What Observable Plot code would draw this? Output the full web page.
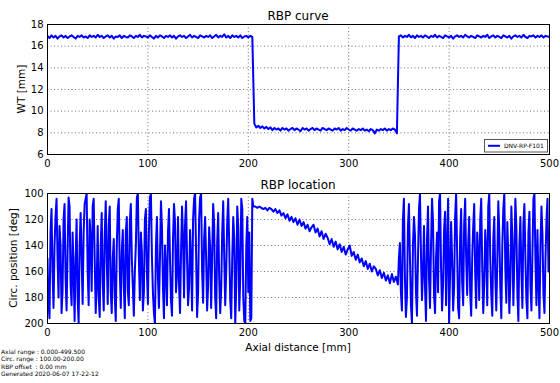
<!DOCTYPE html>
<html><head><meta charset="utf-8">
<script src="https://cdn.jsdelivr.net/npm/d3@7"></script>
<script src="https://cdn.jsdelivr.net/npm/@observablehq/plot@0.6"></script>
<style>
html,body{margin:0;padding:0;background:#fff;}
#root{position:relative;width:560px;height:383px;overflow:hidden;font-family:"DejaVu Sans",sans-serif;}
#root svg{position:absolute;left:0;}
</style></head><body><div id="root"></div>
<script>
// ---------- DATA ----------
const xTicks = [0, 100, 200, 300, 400, 500];
const wtTicks = [6, 8, 10, 12, 14, 16, 18];
const circTicks = [100, 120, 140, 160, 180, 200];
const seriesName = "DNV-RP-F101";
const footerLines = [
  "Axial range : 0.000-499.500",
  "Circ. range : 100.00-200.00",
  "RBP offset  : 0.00 mm",
  "Generated 2020-06-07 17-22-12"
];

// RBP curve, wall thickness [mm], every 2 mm from 0 to 500
const wtStep = 2;
const wtHigh1 = [ // 0..204
16.95,16.75,17.0,16.8,16.95,16.7,16.9,17.0,16.8,16.95,
16.75,16.9,17.0,16.85,16.7,16.95,16.85,17.0,16.8,16.9,
16.75,17.0,16.85,16.95,16.8,17.05,16.85,16.95,16.75,16.9,
17.0,16.8,16.95,16.7,16.9,16.85,17.0,16.75,16.95,16.85,
16.8,17.0,16.9,16.75,16.95,16.85,17.05,16.8,16.95,16.9,
16.8,17.0,16.85,16.7,16.95,16.8,17.0,16.9,16.75,16.95,
16.85,17.0,16.8,16.95,16.7,16.9,17.0,16.85,16.95,16.75,
16.9,17.05,16.8,16.95,16.85,16.75,17.0,16.9,16.8,16.95,
16.85,17.0,16.75,16.9,17.05,16.8,16.95,16.85,17.1,16.8,
16.95,16.75,17.0,16.85,16.95,16.8,17.0,16.75,16.9,16.95,
16.8,16.95,16.85];
const wtLow = [ // 206..348
8.85,8.5,8.65,8.45,8.6,8.4,8.55,8.35,8.5,8.25,
8.45,8.3,8.4,8.2,8.45,8.3,8.4,8.2,8.35,8.45,
8.25,8.4,8.3,8.15,8.45,8.3,8.4,8.2,8.35,8.45,
8.25,8.4,8.3,8.2,8.45,8.35,8.25,8.4,8.3,8.2,
8.4,8.3,8.45,8.2,8.35,8.25,8.45,8.3,8.2,8.4,
8.3,8.2,8.35,8.25,8.4,8.2,8.3,8.15,8.35,8.25,
7.95,8.3,8.2,8.35,8.25,8.4,8.2,8.35,8.25,8.4,
8.3,7.95];
const wtHigh2 = [ // 350..500
16.9,17.0,16.8,16.95,16.85,17.05,16.8,16.95,16.75,17.0,
16.85,16.95,16.8,17.0,16.9,16.75,16.95,16.85,17.05,16.8,
16.95,16.85,16.75,17.0,16.9,16.8,16.95,16.7,16.9,17.0,
16.85,16.95,16.8,17.05,16.9,16.8,16.95,16.85,16.75,17.0,
16.9,16.8,16.95,16.85,17.05,16.75,16.9,17.0,16.8,16.95,
16.85,16.75,17.0,16.9,16.8,16.95,16.7,16.9,17.0,16.85,
16.95,16.8,17.05,16.85,16.75,16.95,16.9,17.0,16.8,16.95,
16.85,17.0,16.8,16.95,16.9,16.85];

// RBP location, circumferential position [deg]
const locRand1 = [ // every 1 mm, 0..204
150,185,196,130,112,160,188,140,118,104,
150,180,125,140,192,175,120,108,165,190,
145,103,110,170,186,130,160,198,150,120,
180,200,140,115,150,185,130,108,104,100,
160,186,120,135,175,110,104,150,192,170,
125,180,195,140,115,168,190,132,106,150,
185,124,110,176,192,150,135,180,198,140,
112,104,160,188,145,128,170,196,130,118,
175,186,122,108,150,172,194,160,140,103,
100,150,182,130,145,190,176,120,112,160,
185,130,103,100,148,176,192,200,142,118,
165,188,150,106,125,172,196,140,158,186,
130,112,150,182,194,136,108,122,176,162,
118,170,192,146,110,134,180,124,106,150,
186,172,128,152,190,120,104,100,146,195,
176,120,103,100,160,184,135,118,150,190,
170,126,142,188,150,108,124,180,196,138,
115,165,192,174,130,106,148,186,160,122,
104,140,182,196,150,118,135,200,172,110,
126,190,164,104,112,180,198,200,140,118,
176,130,198,196,104];
const locTrend = [ // every 2 mm, 205..349
110,110,111,110,111,112,111,113,111,112,
114,112,115,113,117,115,119,116,121,118,
122,119,124,120,125,122,127,124,129,126,
124,130,127,133,129,135,131,134,139,135,
141,137,143,139,145,141,147,143,140,148,
145,151,147,153,150,156,152,158,154,160,
156,158,163,159,165,161,167,163,169,162,
168,164,170];
const locRand2 = [ // every 1 mm, 350..500
150,138,176,190,120,104,165,195,180,126,
108,150,186,200,140,118,132,176,194,150,
112,100,148,182,160,125,172,198,135,110,
165,188,140,104,122,178,192,150,130,176,
106,100,158,190,170,128,114,186,142,104,
200,160,122,150,190,172,118,100,145,188,
196,134,112,168,186,124,104,150,178,140,
118,176,194,150,126,108,162,188,130,146,
182,120,104,156,192,170,128,144,186,110,
100,150,178,194,136,118,164,190,152,106,
130,172,196,140,112,100,158,184,122,150,
192,168,110,134,186,150,104,126,176,198,
140,118,160,188,124,108,150,182,196,130,
114,170,190,146,104,100,152,186,128,168,
196,140,110,132,178,192,150,120,104,160,
130];

// ---------- BUILD ----------
const curveData = wtHigh1.concat(wtLow, wtHigh2).map((v, i) => ({x: i * wtStep, y: v}));
const locData = [
  ...locRand1.map((v, i) => ({x: i, y: v})),
  ...locTrend.map((v, i) => ({x: 205 + 2 * i, y: v})),
  ...locRand2.map((v, i) => ({x: 350 + i, y: v}))
];

const blue = "#0000ff";
const gridStyle = {stroke: "#000", strokeOpacity: 0.55, strokeDasharray: "1,2.5"};
const common = {
  width: 560, marginLeft: 47, marginRight: 11,
  style: {fontFamily: "DejaVu Sans", fontSize: "10px", background: "transparent", color: "#000", overflow: "visible"}
};

const topPlot = Plot.plot({
  ...common, height: 175, marginTop: 24, marginBottom: 21,
  x: {domain: [0, 500]}, y: {domain: [6, 18]},
  marks: [
    Plot.gridX({ticks: xTicks.slice(1, -1), ...gridStyle}),
    Plot.gridY({ticks: wtTicks.slice(1, -1), ...gridStyle}),
    Plot.axisX({ticks: xTicks, tickSize: 0, tickPadding: 5, label: null}),
    Plot.axisY({ticks: wtTicks, tickSize: 0, tickPadding: 4, label: null}),
    Plot.line(curveData, {x: "x", y: "y", stroke: blue, strokeWidth: 2, clip: true}),
    Plot.frame({stroke: "#000"})
  ]
});
topPlot.style.top = "0px";

const botPlot = Plot.plot({
  ...common, height: 208, marginTop: 18, marginBottom: 60,
  x: {domain: [0, 500]}, y: {domain: [100, 200], reverse: true},
  marks: [
    Plot.gridX({ticks: xTicks.slice(1, -1), ...gridStyle}),
    Plot.gridY({ticks: circTicks.slice(1, -1), ...gridStyle}),
    Plot.axisX({ticks: xTicks, tickSize: 0, tickPadding: 5, label: null}),
    Plot.axisY({ticks: circTicks, tickSize: 0, tickPadding: 4, label: null}),
    Plot.line(locData, {x: "x", y: "y", stroke: blue, strokeWidth: 2, clip: true}),
    Plot.frame({stroke: "#000"})
  ]
});
botPlot.style.top = "175px";

const root = document.getElementById("root");
root.appendChild(topPlot);
root.appendChild(botPlot);

// overlay with titles, labels, legend, footer
const ov = d3.select(root).append("svg")
  .attr("width", 560).attr("height", 383)
  .style("top", "0px")
  .attr("font-family", "DejaVu Sans").attr("fill", "#000");
ov.append("text").attr("x", 298).attr("y", 20).attr("text-anchor", "middle").attr("font-size", 12).text("RBP curve");
ov.append("text").attr("x", 298).attr("y", 188.5).attr("text-anchor", "middle").attr("font-size", 12).text("RBP location");
ov.append("text").attr("transform", "translate(24.5,89) rotate(-90)").attr("text-anchor", "middle").attr("font-size", 10.5).text("WT [mm]");
ov.append("text").attr("transform", "translate(16.5,258) rotate(-90)").attr("text-anchor", "middle").attr("font-size", 10.5).text("Circ. position [deg]");
ov.append("text").attr("x", 298).attr("y", 351).attr("text-anchor", "middle").attr("font-size", 10.5).text("Axial distance [mm]");
footerLines.forEach((t, i) => {
  ov.append("text").attr("x", 1).attr("y", 354 + i * 7.33).attr("font-size", 6).style("white-space", "pre").text(t);
});
const lg = ov.append("g");
lg.append("rect").attr("x", 484.5).attr("y", 139.5).attr("width", 63).attr("height", 12.5).attr("fill", "#fff").attr("stroke", "#555").attr("stroke-width", 1);
lg.append("line").attr("x1", 488).attr("x2", 500).attr("y1", 145.8).attr("y2", 145.8).attr("stroke", blue).attr("stroke-width", 2);
lg.append("text").attr("x", 504).attr("y", 148).attr("font-size", 6).text(seriesName);
</script></body></html>
